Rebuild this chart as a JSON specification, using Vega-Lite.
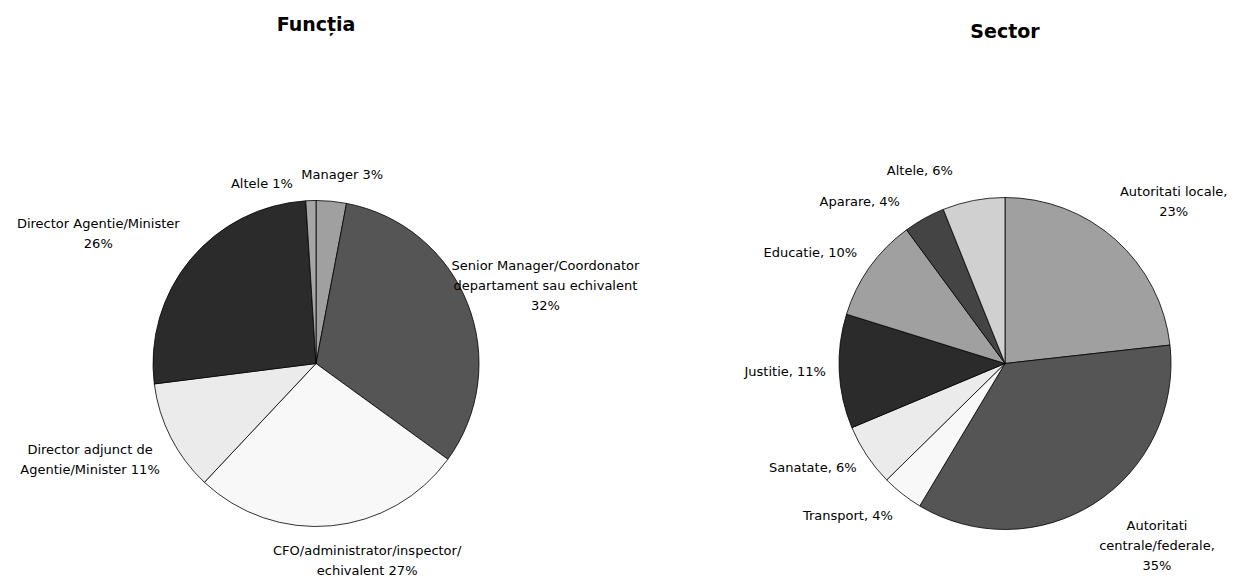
{
  "$schema": "https://vega.github.io/schema/vega-lite/v6.json",
  "padding": {"left": 0, "top": 15, "right": 0, "bottom": 0},
  "background": "white",
  "spacing": 142,
  "bounds": "flush",
  "config": {"view": {"stroke": null}, "text": {"font": "DejaVu Sans", "fontSize": 13, "lineBreak": "\n", "lineHeight": 20, "baseline": "middle", "align": "center", "color": "#000"}},
  "datasets": {
    "functia": [
      {"cat": "Manager", "pct": 3, "o": 1, "label": "Manager 3%"},
      {"cat": "Senior", "pct": 32, "o": 2, "label": "Senior Manager/Coordonator\ndepartament sau echivalent\n32%"},
      {"cat": "CFO", "pct": 27, "o": 3, "label": "CFO/administrator/inspector/\nechivalent 27%"},
      {"cat": "Adjunct", "pct": 11, "o": 4, "label": "Director adjunct de\nAgentie/Minister 11%"},
      {"cat": "Director", "pct": 26, "o": 5, "label": "Director Agentie/Minister\n26%"},
      {"cat": "Altele", "pct": 1, "o": 6, "label": "Altele 1%"}
    ],
    "sector": [
      {"sec": "Locale", "pct": 23, "o": 1, "label": "Autoritati locale,\n23%"},
      {"sec": "Centrale", "pct": 35, "o": 2, "label": "Autoritati\ncentrale/federale,\n35%"},
      {"sec": "Transport", "pct": 4, "o": 3, "label": "Transport, 4%"},
      {"sec": "Sanatate", "pct": 6, "o": 4, "label": "Sanatate, 6%"},
      {"sec": "Justitie", "pct": 11, "o": 5, "label": "Justitie, 11%"},
      {"sec": "Educatie", "pct": 10, "o": 6, "label": "Educatie, 10%"},
      {"sec": "Aparare", "pct": 4, "o": 7, "label": "Aparare, 4%"},
      {"sec": "AlteleS", "pct": 6, "o": 8, "label": "Altele, 6%"}
    ]
  },
  "resolve": {"scale": {"color": "independent", "theta": "independent"}},
  "hconcat": [
    {
      "width": 632, "height": 427,
      "title": {"text": "Funcția", "font": "DejaVu Sans", "fontSize": 19, "fontWeight": "bold", "offset": 104},
      "data": {"name": "functia"},
      "encoding": {
        "theta": {"field": "pct", "type": "quantitative", "stack": true},
        "order": {"field": "o", "type": "quantitative"}
      },
      "layer": [
        {"mark": {"type": "arc", "outerRadius": 163, "stroke": "#000", "strokeWidth": 0.8},
         "encoding": {"color": {"field": "cat", "type": "nominal", "legend": null,
           "scale": {"domain": ["Manager", "Senior", "CFO", "Adjunct", "Director", "Altele"],
                     "range": ["#a0a0a0", "#555555", "#f8f8f8", "#ebebeb", "#2b2b2b", "#a6a6a6"]}}}},
        {"mark": {"type": "text", "radius": 193, "dx": 8, "dy": 4},
         "encoding": {"text": {"condition": {"test": "datum.cat === 'Manager'", "field": "label"}, "value": ""}}},
        {"mark": {"type": "text", "radius": 193, "dx": -48, "dy": 13},
         "encoding": {"text": {"condition": {"test": "datum.cat === 'Altele'", "field": "label"}, "value": ""}}},
        {"mark": {"type": "text", "radius": 193, "dx": 50, "dy": -26},
         "encoding": {"text": {"condition": {"test": "datum.cat === 'Senior'", "field": "label"}, "value": ""}}},
        {"mark": {"type": "text", "radius": 193, "dx": 33, "dy": -5},
         "encoding": {"text": {"condition": {"test": "datum.cat === 'CFO'", "field": "label"}, "value": ""}}},
        {"mark": {"type": "text", "radius": 193, "dx": -54, "dy": -1},
         "encoding": {"text": {"condition": {"test": "datum.cat === 'Adjunct'", "field": "label"}, "value": ""}}},
        {"mark": {"type": "text", "radius": 193, "dx": -69, "dy": -16},
         "encoding": {"text": {"condition": {"test": "datum.cat === 'Director'", "field": "label"}, "value": ""}}}
      ]
    },
    {
      "width": 462, "height": 427,
      "title": {"text": "Sector", "font": "DejaVu Sans", "fontSize": 19, "fontWeight": "bold", "offset": 104, "dy": 6},
      "data": {"name": "sector"},
      "encoding": {
        "theta": {"field": "pct", "type": "quantitative", "stack": true},
        "order": {"field": "o", "type": "quantitative"}
      },
      "layer": [
        {"mark": {"type": "arc", "outerRadius": 166, "stroke": "#000", "strokeWidth": 0.8},
         "encoding": {"color": {"field": "sec", "type": "nominal", "legend": null,
           "scale": {"domain": ["Locale", "Centrale", "Transport", "Sanatate", "Justitie", "Educatie", "Aparare", "AlteleS"],
                     "range": ["#a0a0a0", "#555555", "#f8f8f8", "#ebebeb", "#2b2b2b", "#a0a0a0", "#444444", "#d0d0d0"]}}}},
        {"mark": {"type": "text", "radius": 196, "dx": 38, "dy": -25},
         "encoding": {"text": {"condition": {"test": "datum.sec === 'Locale'", "field": "label"}, "value": ""}}},
        {"mark": {"type": "text", "radius": 196, "dx": 46, "dy": -2},
         "encoding": {"text": {"condition": {"test": "datum.sec === 'Centrale'", "field": "label"}, "value": ""}}},
        {"mark": {"type": "text", "radius": 196, "dx": -36, "dy": -2},
         "encoding": {"text": {"condition": {"test": "datum.sec === 'Transport'", "field": "label"}, "value": ""}}},
        {"mark": {"type": "text", "radius": 196, "dx": -29, "dy": -4},
         "encoding": {"text": {"condition": {"test": "datum.sec === 'Sanatate'", "field": "label"}, "value": ""}}},
        {"mark": {"type": "text", "radius": 196, "dx": -24, "dy": -1},
         "encoding": {"text": {"condition": {"test": "datum.sec === 'Justitie'", "field": "label"}, "value": ""}}},
        {"mark": {"type": "text", "radius": 196, "dx": -35, "dy": 3},
         "encoding": {"text": {"condition": {"test": "datum.sec === 'Educatie'", "field": "label"}, "value": ""}}},
        {"mark": {"type": "text", "radius": 196, "dx": -50, "dy": 10},
         "encoding": {"text": {"condition": {"test": "datum.sec === 'Aparare'", "field": "label"}, "value": ""}}},
        {"mark": {"type": "text", "radius": 196, "dx": -48, "dy": 0},
         "encoding": {"text": {"condition": {"test": "datum.sec === 'AlteleS'", "field": "label"}, "value": ""}}}
      ]
    }
  ]
}
